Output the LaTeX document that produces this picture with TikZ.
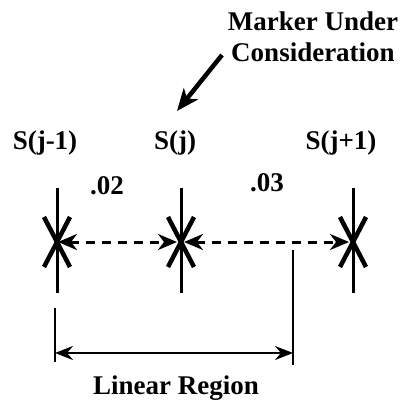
\documentclass[tikz,border=0pt]{standalone}
\usepackage{fontspec}
\setmainfont{Liberation Serif}
\usetikzlibrary{arrows.meta,positioning}

\begin{document}
\begin{tikzpicture}[x=1pt, y=-1pt,
    lbl/.style={font=\fontsize{27}{31}\selectfont\bfseries, inner sep=0pt, align=center},
    stem/.style={line width=3pt},
    cross/.style={line width=4.5pt},
    link/.style={line width=3pt, dash pattern=on 9pt off 7pt,
                 {Stealth[length=19pt, width=16pt, inset=6pt]}-{Stealth[length=19pt, width=16pt, inset=6pt]}},
    span/.style={line width=2.2pt,
                 {Stealth[length=18pt, width=14pt, inset=6pt]}-{Stealth[length=18pt, width=14pt, inset=6pt]}},
    tick/.style={line width=2.4pt},
    pointer/.style={line width=4.5pt, -{Stealth[length=22pt, width=18pt, inset=6pt]}}]
  \useasboundingbox (0,0) rectangle (399,412);

  % Markers on the line
  \foreach \name/\xx/\lab/\lx in {m1/57/S(j-1)/45, m2/181/S(j)/175, m3/353/S(j+1)/341} {
    \coordinate (\name) at (\xx,242);
    \draw[stem] (\name) ++(0,-54) -- ++(0,105);
    \draw[cross] (\name) ++(-13,-25) -- ++(26,50);
    \draw[cross] (\name) ++(13,-25) -- ++(-26,50);
    \node[lbl] (\name lab) at (\lx,143) {\lab};
  }

  % Spacings between markers
  \draw[link, shorten <=1pt, shorten >=4pt] (m1) -- (m2);
  \draw[link, shorten <=3pt, shorten >=4pt] (m2) -- (m3);
  \node[lbl] (d1) at (107,186) {.02};
  \node[lbl] (d2) at (267,183) {.03};

  % Marker under consideration
  \node[lbl] (muc) at (313,37) {Marker Under\\Consideration};
  \coordinate (ptail) at (222,55);
  \coordinate (phead) at (177,111);
  \draw[pointer] (ptail) -- (phead);

  % Linear region
  \coordinate (lrL) at (55,353);
  \coordinate (lrR) at (293,353);
  \draw[tick] (lrL) ++(0,-45) -- ++(0,54);
  \draw[tick] (lrR) ++(0,-103) -- ++(0,115);
  \draw[span] (lrL) -- (lrR);
  \node[lbl] (lr) at (176,388) {Linear Region};
\end{tikzpicture}
\end{document}
